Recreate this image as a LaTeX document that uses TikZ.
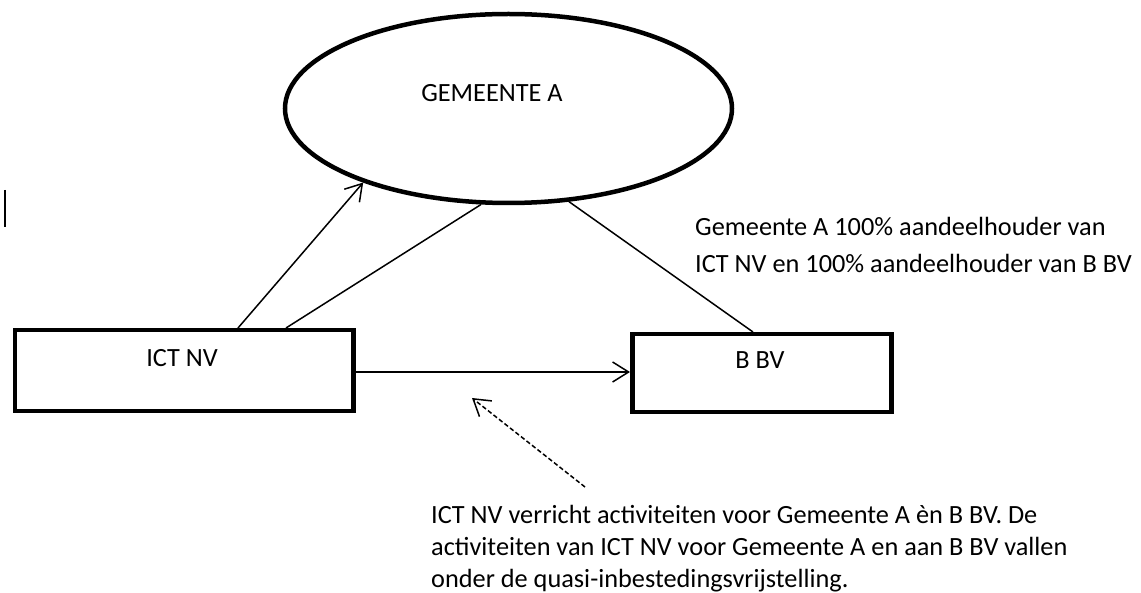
\documentclass[tikz,border=0pt]{standalone}
\usepackage{fontspec}
\setmainfont{Carlito}
\usetikzlibrary{arrows.meta,shapes.geometric}
\begin{document}
\begin{tikzpicture}[x=1pt,y=-1pt,
  thickshape/.style={draw=black,line width=4.5pt,inner sep=0pt},
  conn/.style={draw=black,line width=1.5pt},
  arr/.style={conn,-{Straight Barb[length=16pt,width=20pt,line width=1.5pt]}},
  dasharr/.style={arr,dash pattern=on 4.5pt off 2.5pt},
  lbl/.style={inner sep=0pt,font=\fontsize{26.3}{36}\selectfont},
]
\useasboundingbox (0,0) rectangle (1141,593);
\fill[white] (0,0) rectangle (1141,593);

% shapes
\node[thickshape,ellipse,minimum width=447pt,minimum height=189pt] (gem) at (508.5,108.5) {};
\node[thickshape,rectangle,minimum width=338.5pt,minimum height=81pt,anchor=north west] (ict) at (12.5,328) {};
\node[thickshape,rectangle,minimum width=259pt,minimum height=78pt,anchor=north west] (bbv) at (630,332) {};

% labels
\node[lbl,anchor=base] (gemtext) at (492,102) {GEMEENTE A};
\node[lbl,anchor=base] (icttext) at (182,367) {ICT NV};
\node[lbl,anchor=base] (bbvtext) at (760,369) {B BV};

% cursor mark
\draw[line width=2pt] (4.7,190) -- (4.7,227);

% connectors
\draw[arr] ([xshift=225.5pt]ict.north west) -- (gem.207.7);
\draw[conn] ([xshift=273.5pt]ict.north west) -- (gem.254.8);
\draw[conn] ([xshift=123pt]bbv.north west) -- (gem.303.3);
\draw[arr] (ict.east |- 0,372) -- (bbv.west |- 0,372);

\coordinate (dstart) at (585,487);
\coordinate (dend) at (472,398);
\draw[dasharr] (dstart) -- (dend);

% text blocks
\node[lbl,anchor=base west] (note1) at (695,236) {Gemeente A 100\% aandeelhouder van};
\node[lbl,anchor=base west] (note2) at (695,273) {ICT NV en 100\% aandeelhouder van B BV};

\node[lbl,anchor=base west] (note3) at (431,523) {ICT NV verricht activiteiten voor Gemeente A èn B BV. De};
\node[lbl,anchor=base west] (note4) at (431,555) {activiteiten van ICT NV voor Gemeente A en aan B BV vallen};
\node[lbl,anchor=base west] (note5) at (431,587) {onder de quasi-inbestedingsvrijstelling.};
\end{tikzpicture}
\end{document}
